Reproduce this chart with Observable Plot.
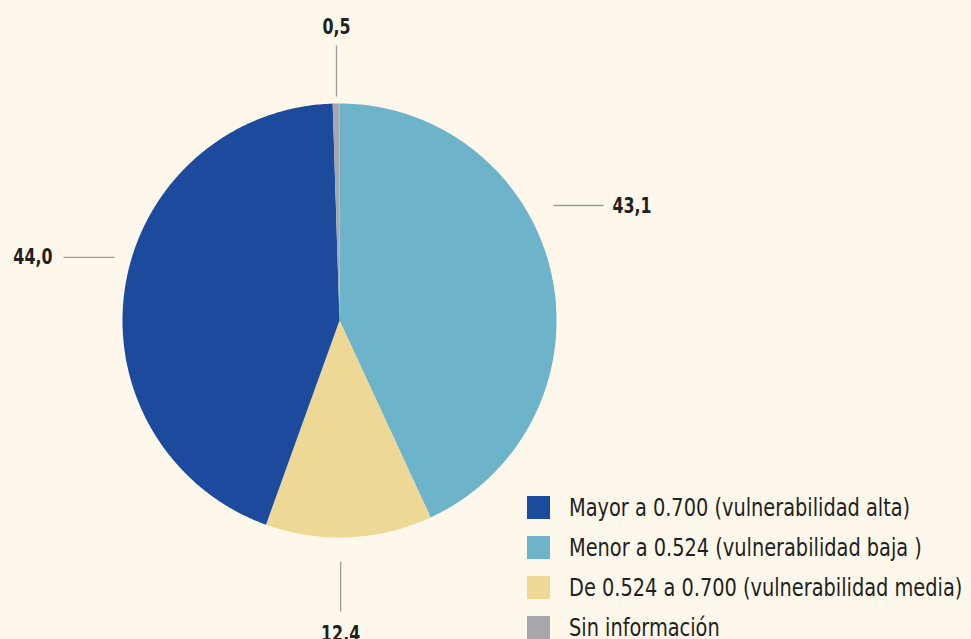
<!DOCTYPE html>
<html>
<head>
<meta charset="utf-8">
<script src="https://cdn.jsdelivr.net/npm/d3@7"></script>
<script src="https://cdn.jsdelivr.net/npm/@observablehq/plot@0.6"></script>
<style>
  html, body { margin: 0; padding: 0; background: #fdf8eb; }
  #wrap { position: relative; width: 971px; height: 639px; overflow: hidden; }
  .font { font-family: "DejaVu Sans Condensed", "Liberation Sans Narrow", sans-serif; font-stretch: condensed; }
  #legend { position: absolute; left: 527px; top: 487px; color: #231f20; font-size: 25px; }
  .row { display: flex; align-items: center; height: 40px; white-space: nowrap; }
  .sw { width: 23px; height: 23px; margin-right: 19px; flex: none; }
  .lt { display: inline-block; transform: scaleX(0.86); transform-origin: left center; }
</style>
</head>
<body>
<div id="wrap" class="font"></div>
<script>
// Data (clockwise from 12 o'clock)
const categories = ["Menor a 0.524 (vulnerabilidad baja )", "De 0.524 a 0.700 (vulnerabilidad media)", "Mayor a 0.700 (vulnerabilidad alta)", "Sin información"];
const values = [43.1, 12.4, 44.0, 0.5];
const valueLabels = ["43,1", "12,4", "44,0", "0,5"];
const colors = ["#6db3c9", "#eed895", "#1c4a9d", "#a6a8ab"];
const legendOrder = [2, 0, 1, 3];

// Layout (not data): leader lines, in radius units
const labelAngles = [58, 179.7, 286.9, -0.8]; // degrees clockwise from top
const leaderOrient = ["h", "v", "h", "v"];
const leaderGap = [0.138, 0.111, 0.08, 0.032];
const leaderLen = [0.231, 0.23, 0.235, 0.235];
const labelGap = [0.041, 0.105, 0.051, 0.088];

const W = 971, H = 639, cx = 339, cy = 320, R = 217;
const xDomain = [-cx / R, (W - cx) / R];
const yDomain = [-(H - cy) / R, cy / R];

const total = d3.sum(values);
const slices = [];
let acc = 0;
values.forEach((v, i) => {
  const a0 = acc / total * 2 * Math.PI;
  acc += v;
  const a1 = acc / total * 2 * Math.PI;
  const n = Math.max(2, Math.ceil((a1 - a0) / 0.01));
  slices.push({cat: categories[i], x: 0, y: 0});
  for (let k = 0; k <= n; k++) {
    const a = a0 + (a1 - a0) * k / n;
    slices.push({cat: categories[i], x: Math.sin(a), y: Math.cos(a)});
  }
  slices.push({cat: categories[i], x: 0, y: 0});
});

const leaders = [], labels = [];
values.forEach((v, i) => {
  const a = labelAngles[i] * Math.PI / 180;
  if (leaderOrient[i] === "h") {
    const y = Math.cos(a);
    const side = Math.sin(a) > 0 ? 1 : -1;
    const xEdge = Math.sin(a);
    const x1 = xEdge + side * leaderGap[i], x2 = x1 + side * leaderLen[i];
    leaders.push({x1, y1: y, x2, y2: y});
    labels.push({x: x2 + side * labelGap[i], y, text: valueLabels[i], anchor: side > 0 ? "start" : "end"});
  } else {
    const x = Math.sin(a);
    const side = Math.cos(a) > 0 ? 1 : -1;
    const yEdge = Math.cos(a);
    const y1 = yEdge + side * leaderGap[i], y2 = y1 + side * leaderLen[i];
    leaders.push({x1: x, y1, x2: x, y2});
    labels.push({x, y: y2 + side * labelGap[i], text: valueLabels[i], anchor: "middle"});
  }
});

const labelStyle = {x: "x", y: "y", text: "text", fontSize: 22, fontWeight: "bold", fill: "#231f20", className: "vlabel"};

const plot = Plot.plot({
  width: W, height: H,
  margin: 0,
  x: {domain: xDomain, axis: null},
  y: {domain: yDomain, axis: null},
  color: {domain: categories, range: colors},
  style: {background: "transparent", fontFamily: "'DejaVu Sans Condensed', sans-serif"},
  marks: [
    Plot.line(slices, {x: "x", y: "y", z: "cat", fill: "cat", stroke: "none", curve: "linear"}),
    Plot.link(leaders, {x1: "x1", y1: "y1", x2: "x2", y2: "y2", stroke: "#9a9a9a", strokeWidth: 1.3}),
    ...["start", "middle", "end"].map(anc =>
      Plot.text(labels.filter(d => d.anchor === anc), {...labelStyle, textAnchor: anc}))
  ]
});
document.getElementById("wrap").appendChild(plot);
// condense value labels to match the narrow typeface
d3.select(plot).selectAll(".vlabel text").each(function() {
  const w = this.getComputedTextLength();
  this.setAttribute("textLength", (w * 0.8).toFixed(1));
  this.setAttribute("lengthAdjust", "spacingAndGlyphs");
});

const legend = document.createElement("div");
legend.id = "legend";
legend.className = "font";
legendOrder.forEach(i => {
  const row = document.createElement("div");
  row.className = "row";
  const sw = document.createElement("div");
  sw.className = "sw";
  sw.style.background = colors[i];
  const t = document.createElement("span");
  t.className = "lt";
  t.textContent = categories[i];
  row.appendChild(sw); row.appendChild(t);
  legend.appendChild(row);
});
document.getElementById("wrap").appendChild(legend);
</script>
</body>
</html>
